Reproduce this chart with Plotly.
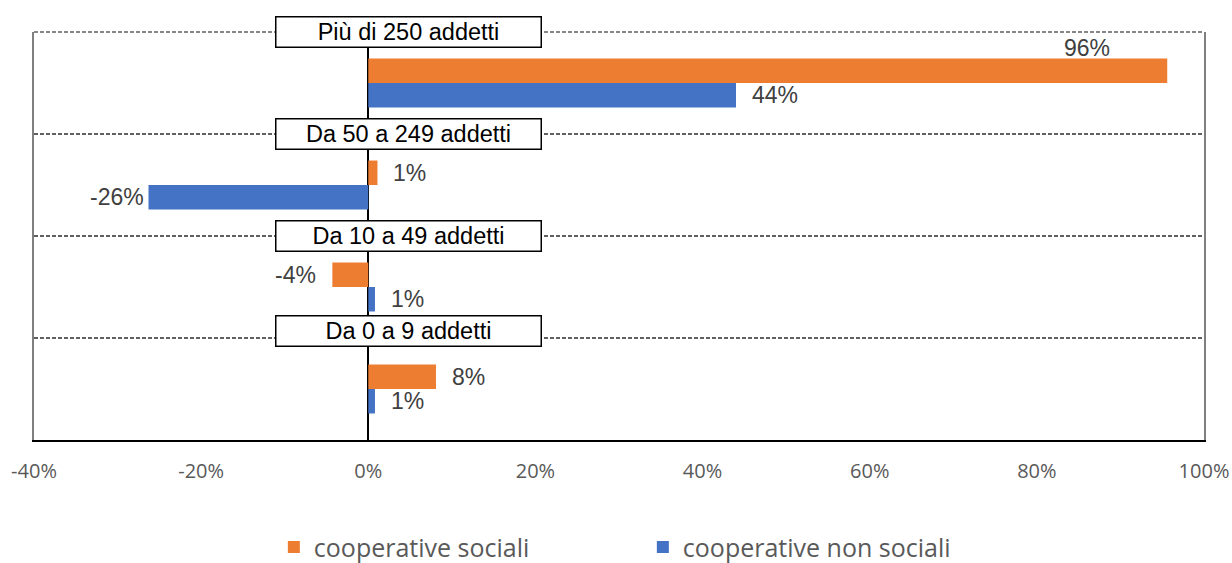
import plotly.graph_objects as go

# Size classes, listed bottom to top
categories = ["Da 0 a 9 addetti", "Da 10 a 49 addetti", "Da 50 a 249 addetti", "Più di 250 addetti"]
sociali = [8.1, -4.3, 1.1, 95.6]
non_sociali = [0.8, 0.8, -26.3, 44.0]
x_ticks = [-40, -20, 0, 20, 40, 60, 80, 100]
x_tick_labels = [f"{t}%" for t in x_ticks]

ORANGE = "#ED7D31"
BLUE = "#4472C4"
GRID = "#606060"
LABEL_FONT = dict(family="Liberation Sans, Arial", size=23, color="#404040")

ypos = list(range(len(categories)))
BAR_GAP = 0.52
bar_w = (1 - BAR_GAP) / 2

fig = go.Figure()
fig.add_trace(go.Bar(
    y=ypos, x=non_sociali, orientation="h", name="cooperative non sociali",
    marker=dict(color=BLUE, line=dict(width=0)), legendrank=2, hoverinfo="skip",
))
fig.add_trace(go.Bar(
    y=ypos, x=sociali, orientation="h", name="cooperative sociali",
    marker=dict(color=ORANGE, line=dict(width=0)), legendrank=1, hoverinfo="skip",
))

annotations = []

# value labels at the bar ends; a couple are nudged where they would collide
nudges = {("s", 3): (-55, 23, "right"), ("n", 2): (-2, 0, None)}
for key, vals, off in (("n", non_sociali, -bar_w / 2), ("s", sociali, bar_w / 2)):
    for i, v in enumerate(vals):
        anchor = "left" if v >= 0 else "right"
        dx = 14 if v >= 0 else -14
        dy = 0
        if (key, i) in nudges:
            dx, dy, a = nudges[(key, i)]
            anchor = a or anchor
        annotations.append(dict(
            x=v, y=i + off, xref="x", yref="y", text=f"{v:.0f}%",
            showarrow=False, xanchor=anchor, yanchor="middle",
            xshift=dx, yshift=dy, font=LABEL_FONT,
        ))

# category title boxes sitting on each band's upper boundary
box_shift = [7, 0, 0, 0]
for i, cat in enumerate(categories):
    annotations.append(dict(
        x=0.32, y=i + 0.5, xref="paper", yref="y", text=cat,
        showarrow=False, xanchor="center", yanchor="middle",
        yshift=box_shift[i],
        bgcolor="white", bordercolor="black", borderwidth=1.5, borderpad=1,
        width=262, height=27,
        font=dict(family="Liberation Sans, Arial", size=23.5, color="black"),
    ))

fig.update_layout(
    width=1232, height=563,
    margin=dict(l=34, r=28, t=32, b=123, autoexpand=False),
    paper_bgcolor="white", plot_bgcolor="white",
    barmode="group", bargap=BAR_GAP, bargroupgap=0,
    showlegend=True,
    legend=dict(
        orientation="h", x=0.205, y=-0.263, xanchor="left", yanchor="middle",
        entrywidth=324, entrywidthmode="pixels",
        font=dict(family="Open Sans", size=25, color="#595959"),
        traceorder="normal",
    ),
    annotations=annotations,
    # dashed top edge of the plot frame, continuing the band separators
    shapes=[dict(
        type="line", xref="paper", yref="paper", x0=0, x1=1, y0=1, y1=1,
        line=dict(color=GRID, width=1.5, dash="4px,2px"), layer="below",
    )],
)

fig.update_xaxes(
    range=[-40, 100], tickvals=x_ticks, ticktext=x_tick_labels,
    showgrid=False, showline=True, linecolor="black", linewidth=2,
    zeroline=True, zerolinecolor="black", zerolinewidth=1.5,
    ticks="", ticklabelstandoff=12, automargin=False,
    tickfont=dict(family="Open Sans", size=20, color="#595959"),
)
fig.update_yaxes(
    range=[-0.5, len(categories) - 0.5],
    tickvals=[i + 0.5 for i in ypos], showticklabels=False, ticks="",
    showgrid=True, gridcolor=GRID, gridwidth=1.5, griddash="4px,2px",
    showline=True, mirror=True, linecolor="#7f7f7f", linewidth=2,
    zeroline=False, automargin=False,
)

fig.write_html("out.html")
